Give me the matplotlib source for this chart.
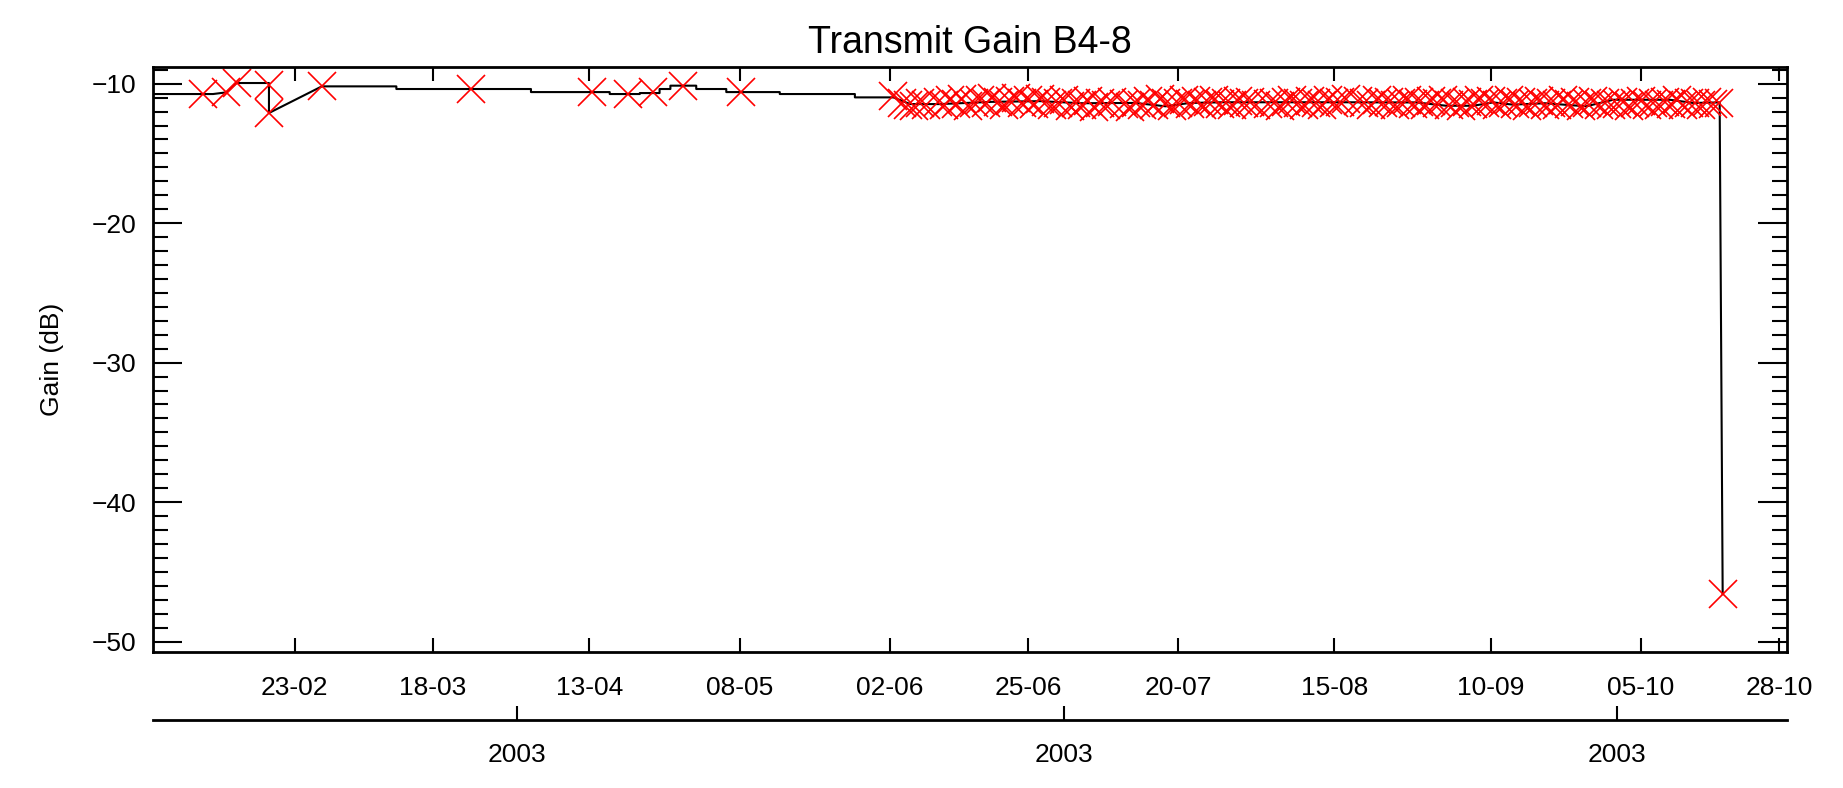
import matplotlib
matplotlib.use('Agg')
import matplotlib.pyplot as plt
from matplotlib import font_manager
from matplotlib.ticker import MultipleLocator
import numpy as np
import pandas as pd

# measured gain (red crosses), day of year 2003
mark_doy = [38.7, 42.6, 44.3, 49.7, 49.7, 58.5, 83.4, 103.4, 109.4, 113.6, 118.6, 128.3, 153.5,
            155, 156, 157, 158, 159, 161, 162, 163, 164, 165, 166, 167, 168, 169, 170, 171, 172,
            173, 174, 175, 176, 177, 178, 179, 180, 181, 182, 183, 184, 185, 186, 187, 188, 189,
            190, 192, 193, 194, 195, 196, 197, 198, 199, 200, 201, 202, 203, 204, 205, 206, 207,
            208, 209, 210, 211, 212, 213, 214, 216, 217, 218, 219, 220, 221, 222, 223, 224, 225,
            226, 227, 228, 229, 231, 232, 233, 234, 235, 236, 237, 238, 239, 240, 241, 242, 243,
            244, 245, 246, 247, 248, 249, 250, 251, 252, 253, 254, 255, 256, 257, 258, 259, 260,
            261, 262, 263, 264, 265, 266, 267, 268, 269, 270, 271, 272, 273, 274, 275, 276, 277,
            278, 279, 280, 281, 282, 283, 284, 285, 286, 287, 288, 289, 290, 291, 291.6]
mark_gain = [-10.74, -10.62, -9.95, -10.07, -12.1, -10.19, -10.38, -10.60, -10.74, -10.60, -10.14, -10.60, -10.91,
             -11.35, -11.55, -11.62, -11.40, -11.50, -11.30, -11.55, -11.20, -11.45, -11.10, -11.60, -11.35, -11.15,
             -11.40, -11.05, -11.30, -11.50, -11.25, -11.00, -11.35, -11.20, -11.45, -11.10, -11.30, -11.55, -11.40,
             -11.20, -11.60, -11.35, -11.50, -11.25, -11.65, -11.40, -11.55, -11.30, -11.45, -11.70, -11.35, -11.55,
             -11.25, -11.50, -11.10, -11.40, -11.60, -11.35, -11.15, -11.45, -11.25, -11.55, -11.30, -11.20, -11.45,
             -11.35, -11.55, -11.25, -11.40, -11.30, -11.50, -11.45, -11.35, -11.60, -11.30, -11.15, -11.40, -11.55,
             -11.25, -11.35, -11.50, -11.20, -11.40, -11.30, -11.10, -11.25, -11.35, -11.55, -11.20, -11.40, -11.30,
             -11.50, -11.35, -11.15, -11.45, -11.30, -11.55, -11.25, -11.40, -11.20, -11.50, -11.35, -11.60, -11.30,
             -11.45, -11.15, -11.40, -11.25, -11.55, -11.35, -11.20, -11.45, -11.30, -11.60, -11.40, -11.25, -11.50,
             -11.35, -11.55, -11.20, -11.45, -11.30, -11.60, -11.40, -11.25, -11.50, -11.35, -11.55, -11.45, -11.30,
             -11.60, -11.40, -11.25, -11.50, -11.35, -11.55, -11.30, -11.45, -11.20, -11.50, -11.35, -11.40, -11.55,
             -11.30, -11.45, -11.35, -46.6]

# black trend line, day of year 2003
line_doy = [30.0, 40.4, 42.6, 44.3, 49.7, 49.7, 58.5, 70.9, 70.9, 93.3, 93.3, 106.4, 106.4, 111.4, 111.4,
            114.7, 114.7, 116.5, 116.5, 120.8, 120.8, 125.8, 125.8, 134.7, 134.7, 147.2, 147.2, 153.6, 156.4,
            161.4, 170, 178, 185, 192.4, 193.9, 198.9, 202.9, 208.4, 221.7, 228.9, 236.2, 240.6, 245.6, 250.1,
            253.4, 256.7, 262, 268.9, 273.4, 282.8, 286.7, 291.1, 291.6]
line_gain = [-10.74, -10.74, -10.62, -9.95, -9.95, -12.1, -10.19, -10.19, -10.38, -10.38, -10.60, -10.60, -10.74,
             -10.74, -10.67, -10.67, -10.38, -10.38, -10.14, -10.14, -10.38, -10.38, -10.60, -10.60, -10.74, -10.74,
             -10.98, -10.98, -11.46, -11.46, -11.30, -11.25, -11.40, -11.38, -11.38, -11.62, -11.38, -11.33, -11.33,
             -11.33, -11.34, -11.34, -11.58, -11.58, -11.34, -11.50, -11.40, -11.62, -11.15, -11.15, -11.38, -11.34,
             -46.6]

tick_labels = ['23-02', '18-03', '13-04', '08-05', '02-06', '25-06', '20-07', '15-08', '10-09', '05-10', '28-10']
year_ticks = ['2003-04-01', '2003-07-01', '2003-10-01']
year_labels = ['2003', '2003', '2003']


def to_date(doy):
    return pd.Timestamp('2003-01-01') + pd.to_timedelta(np.asarray(doy, dtype=float) - 1, unit='D')


names = {f.name for f in font_manager.fontManager.ttflist}
fam = 'Liberation Sans Narrow' if 'Liberation Sans Narrow' in names else 'Liberation Sans'
plt.rcParams['font.family'] = fam

fig = plt.figure(figsize=(18.43, 7.88), dpi=100)
ax = fig.add_axes([0.083, 0.1726, 0.8866, 0.7424])

ax.plot(to_date(line_doy), line_gain, color='black', lw=1.5)
ax.plot(to_date(mark_doy), mark_gain, ls='none', marker='x', ms=20, mew=1.2, color='red')

ax.set_xlim(to_date(30.4), to_date(302.3))
ax.set_ylim(-50.75, -8.8)

tick_dates = pd.to_datetime(['2003-' + t[3:] + '-' + t[:2] for t in tick_labels])
ax.set_xticks(tick_dates, tick_labels)
ax.yaxis.set_major_locator(MultipleLocator(10))
ax.yaxis.set_minor_locator(MultipleLocator(1))

ax.tick_params(axis='x', which='major', direction='in', length=10, width=1.5, top=True,
               labelsize=19, pad=17)
ax.tick_params(axis='y', which='major', direction='in', length=21, width=1.5, right=True,
               labelsize=19, pad=12)
ax.tick_params(axis='y', which='minor', direction='in', length=11, width=1.5, right=True)
for s in ax.spines.values():
    s.set_linewidth(2)

sec = ax.secondary_xaxis(-0.116)
sec.set_xticks(pd.to_datetime(year_ticks), year_labels)
sec.tick_params(direction='in', length=10, width=1.5, labelsize=19, pad=17)
sec.spines['bottom'].set_linewidth(2)

ax.set_ylabel('Gain (dB)', fontsize=19, labelpad=20)
ax.set_title('Transmit Gain B4-8', fontsize=27, pad=10)

fig.savefig('out.png', dpi=100)
